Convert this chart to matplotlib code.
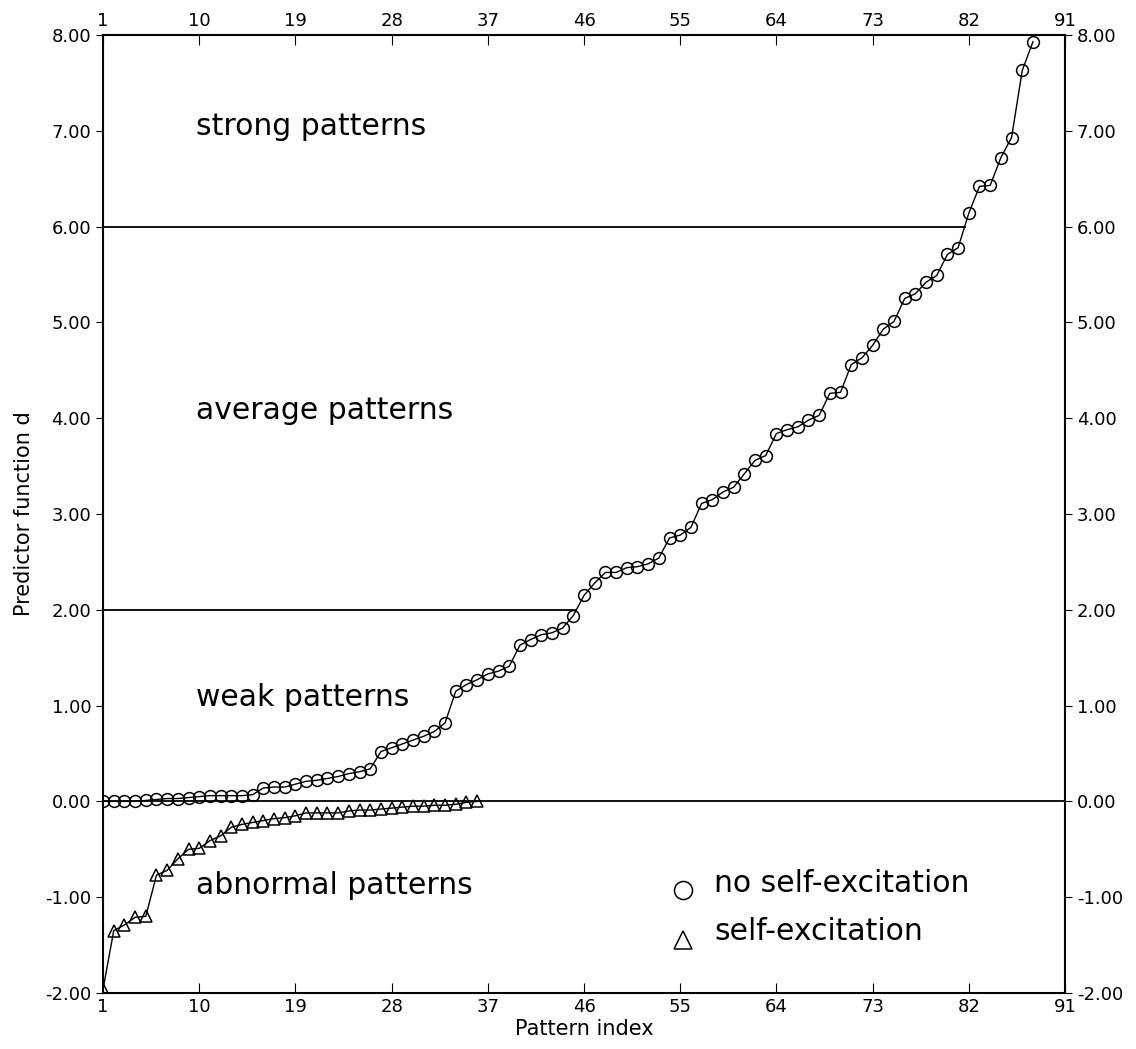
import matplotlib.pyplot as plt
import numpy as np

# predictor function d, sorted
d_no_self = [0.00, 0.00, 0.00, 0.00, 0.01, 0.02, 0.03, 0.03, 0.04, 0.05,
             0.06, 0.06, 0.06, 0.06, 0.07, 0.14, 0.15, 0.15, 0.18, 0.21,
             0.22, 0.24, 0.26, 0.29, 0.31, 0.34, 0.52, 0.56, 0.60, 0.64,
             0.68, 0.73, 0.82, 1.15, 1.22, 1.27, 1.33, 1.36, 1.41, 1.63,
             1.69, 1.74, 1.76, 1.81, 1.94, 2.15, 2.28, 2.39, 2.39, 2.44,
             2.45, 2.48, 2.54, 2.75, 2.78, 2.86, 3.11, 3.15, 3.23, 3.28,
             3.42, 3.56, 3.61, 3.84, 3.88, 3.91, 3.98, 4.03, 4.26, 4.27,
             4.56, 4.63, 4.76, 4.93, 5.01, 5.25, 5.30, 5.42, 5.49, 5.71,
             5.78, 6.14, 6.42, 6.43, 6.72, 6.93, 7.63, 7.93]

d_self = [-1.96, -1.35, -1.29, -1.21, -1.20, -0.77, -0.72, -0.60, -0.50, -0.49,
          -0.41, -0.36, -0.27, -0.24, -0.22, -0.20, -0.18, -0.17, -0.15, -0.12,
          -0.12, -0.12, -0.12, -0.10, -0.09, -0.09, -0.08, -0.07, -0.06, -0.05,
          -0.05, -0.04, -0.04, -0.03, -0.01, 0.00]

idx_no_self = np.arange(1, len(d_no_self) + 1)
idx_self = np.arange(1, len(d_self) + 1)

thresholds = [0.0, 2.0, 6.0]
regions = ['strong patterns', 'average patterns', 'weak patterns', 'abnormal patterns']
region_y = [7.05, 4.08, 1.08, -0.88]
xticks = list(range(1, 92, 9))
yticks = list(range(-2, 9))

fig = plt.figure(figsize=(11.36, 10.49), dpi=100)
ax = fig.add_axes([0.0907, 0.0534, 0.8468, 0.9132])

ax.plot(idx_no_self, d_no_self, color='black', lw=1.0, marker='o', ms=8.5,
        mfc='none', mec='black', mew=1.1)
ax.plot(idx_self, d_self, color='black', lw=1.0, marker='^', ms=8.5,
        mfc='none', mec='black', mew=1.1)

# class boundaries run from the left axis to where the curve crosses them
for t in thresholds:
    if t == 0.0:
        x_end = 91
    else:
        x_end = np.interp(t, d_no_self, idx_no_self)
    ax.plot([1, x_end], [t, t], color='black', lw=1.3)

for name, y in zip(regions, region_y):
    ax.text(9.7, y, name, fontsize=21.5, va='center', ha='left')

# legend drawn as text with symbols
ax.plot([55.3], [-0.93], marker='o', ms=13, mfc='none', mec='black', mew=1.1)
ax.text(58.2, -0.86, 'no self-excitation', fontsize=21.5, va='center')
ax.plot([55.3], [-1.45], marker='^', ms=13, mfc='none', mec='black', mew=1.1)
ax.text(58.2, -1.36, 'self-excitation', fontsize=21.5, va='center')

ax.set_xlim(1, 91)
ax.set_ylim(-2, 8)
ax.set_xticks(xticks)
ax.set_yticks(yticks)
ax.set_yticklabels(['%.2f' % v for v in yticks])
ax.tick_params(axis='x', direction='in', top=True, labeltop=True, labelsize=13, length=7)
ax.tick_params(axis='y', direction='out', right=True, labelright=True, labelsize=13, length=5)
for s in ax.spines.values():
    s.set_linewidth(1.5)

ax.set_xlabel('Pattern index', fontsize=15, labelpad=2)
ax.set_ylabel('Predictor function d', fontsize=15, labelpad=8)

fig.savefig('out.png', dpi=100)
